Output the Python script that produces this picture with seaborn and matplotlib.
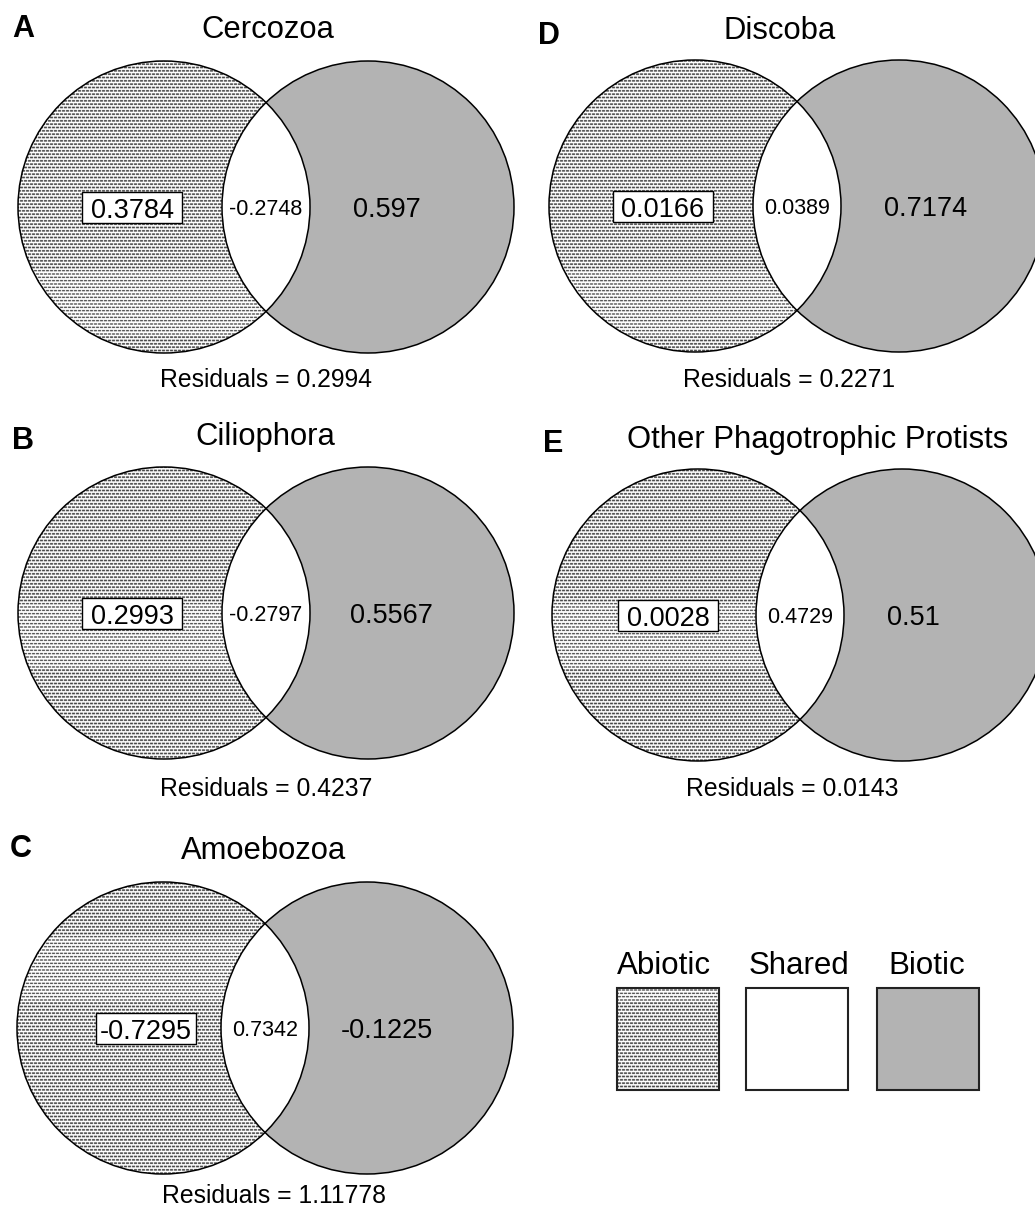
import numpy as np
import matplotlib
matplotlib.use("Agg")
import matplotlib.pyplot as plt
from matplotlib.patches import Circle, Rectangle
import seaborn as sns

# variation partitioning values (abiotic / shared / biotic) per group
letters = ["A", "B", "C", "D", "E"]
titles = ["Cercozoa", "Ciliophora", "Amoebozoa", "Discoba",
          "Other Phagotrophic Protists"]
abiotic = [0.3784, 0.2993, -0.7295, 0.0166, 0.0028]
shared = [-0.2748, -0.2797, 0.7342, 0.0389, 0.4729]
biotic = [0.597, 0.5567, -0.1225, 0.7174, 0.51]
residuals = [0.2994, 0.4237, 1.11778, 0.2271, 0.0143]
legend_labels = ["Abiotic", "Shared", "Biotic"]

# layout (pixels)
R = 146
D = 204
circle_x = [164, 164, 163, 695, 698]
circle_y = [207, 613, 1028, 206, 615]
title_x = [268, 265, 264, 780, 818]
title_y = [27, 434, 848, 28, 437]
letter_x = [12, 12, 10, 538, 543]
letter_y = [26, 438, 846, 33, 441]
resid_x = [266, 266, 274, 789, 792]
resid_y = [378, 787, 1194, 378, 787]
abiotic_dx = [-32, -32, -17, -32, -30]
biotic_dx = [19, 23, 20, 27, 11]

GREY = "#b3b3b3"

sns.set_theme(style="white")
plt.rcParams["font.family"] = ["Liberation Sans", "DejaVu Sans"]

fig = plt.figure(figsize=(10.35, 12.07), dpi=100)
ax = fig.add_axes([0, 0, 1, 1])


def put(x, yc, s, size, ha="center", **kw):
    # place text so that the cap height is centred on yc
    cap = 0.716 * size * 100 / 72
    ax.text(x, yc + cap / 2, s, fontsize=size, ha=ha, va="baseline",
            color="black", **kw)


def texture(x0, y0, w, h, clip, s=3):
    H, W = int(h * s), int(w * s)
    yy, xx = np.mgrid[0:H, 0:W] / s
    yy = yy + y0
    xx = xx + x0
    row = np.floor(yy / 3.33)
    on_row = (yy % 3.33) < 1.6
    on_dash = ((xx + (row % 2) * 2.0) % 4.0) < 2.7
    g = np.where(on_row & on_dash, 0.28, 1.0)
    im = ax.imshow(g, cmap="gray", vmin=0, vmax=1,
                   extent=(x0, x0 + w, y0 + h, y0),
                   interpolation="antialiased", zorder=2, aspect="auto")
    im.set_clip_path(clip)


for i in range(len(letters)):
    cx, cy = circle_x[i], circle_y[i]
    rx = cx + D
    right = Circle((rx, cy), R, fc=GREY, ec="none", zorder=1)
    ax.add_patch(right)
    left = Circle((cx, cy), R, fc="white", ec="none", zorder=1.5)
    ax.add_patch(left)
    texture(cx - R - 2, cy - R - 2, 2 * R + 4, 2 * R + 4, left)
    lens = Circle((rx, cy), R, fc="white", ec="none", zorder=3)
    ax.add_patch(lens)
    lens.set_clip_path(left)
    for c in (cx, rx):
        ax.add_patch(Circle((c, cy), R, fill=False, ec="black", lw=1.1, zorder=4))

    # abiotic value in a fixed box
    bx = cx + abiotic_dx[i]
    ax.add_patch(Rectangle((bx - 50, cy - 15), 100, 31, fc="white",
                           ec="black", lw=1.0, zorder=5))
    put(bx, cy + 1, str(abiotic[i]), 19.5, zorder=6)
    put((cx + rx) / 2, cy, str(shared[i]), 15.5, zorder=6)
    put(rx + biotic_dx[i], cy, str(biotic[i]), 19.5, zorder=6)

    put(title_x[i], title_y[i], titles[i], 22.3)
    put(letter_x[i], letter_y[i], letters[i], 22, ha="left", fontweight="bold")
    put(resid_x[i], resid_y[i], f"Residuals = {residuals[i]}", 17.8)

# legend
box_x = [617, 746, 877]
text_x = [664, 799, 927]
box_fc = ["white", "white", GREY]
for j, lab in enumerate(legend_labels):
    sq = Rectangle((box_x[j], 988), 102, 102, fc=box_fc[j], ec="none", zorder=1)
    ax.add_patch(sq)
    if j == 0:
        texture(box_x[j], 988, 102, 102, sq)
    ax.add_patch(Rectangle((box_x[j], 988), 102, 102, fill=False,
                           ec="#222222", lw=1.5, zorder=4))
    put(text_x[j], 963, lab, 22.5)

ax.set_xlim(0, 1035)
ax.set_ylim(1207, 0)
ax.axis("off")
fig.savefig("out.png", dpi=100, facecolor="white")
